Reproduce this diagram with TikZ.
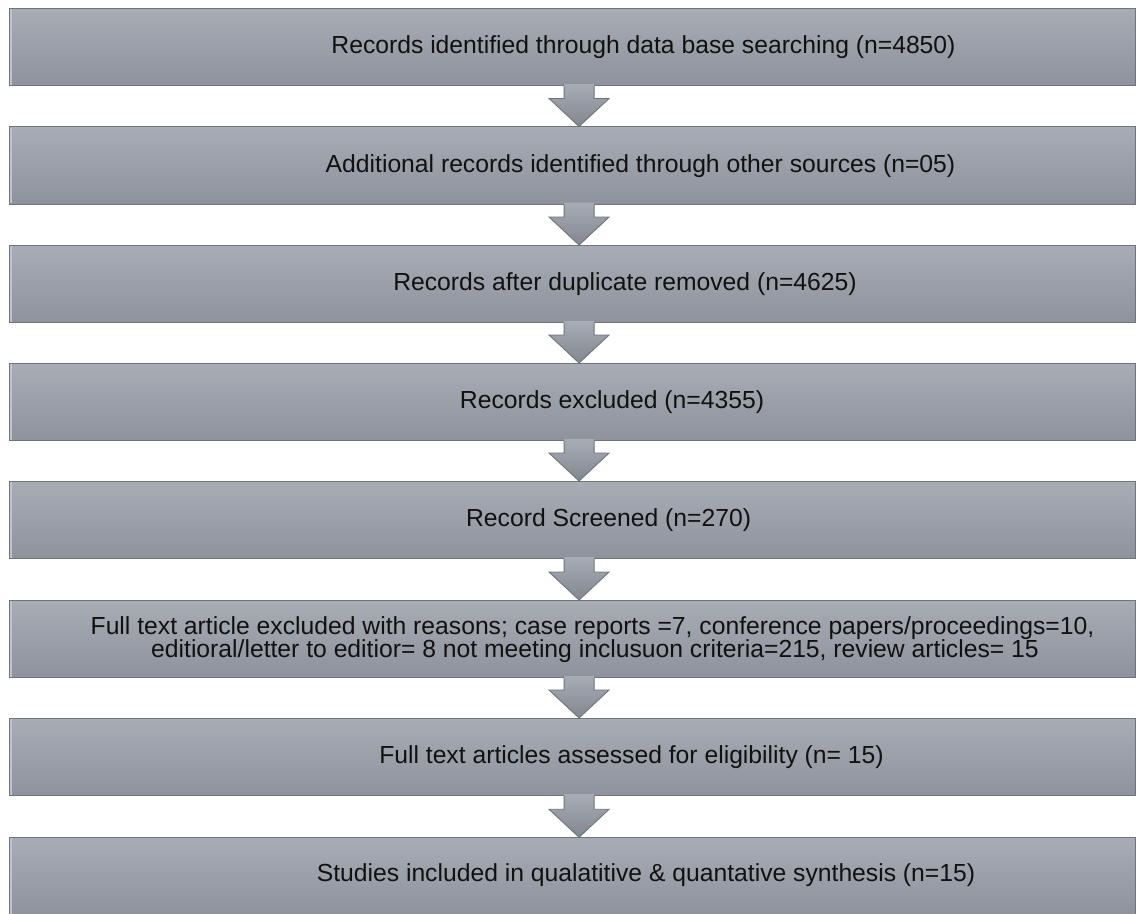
\documentclass[tikz,border=0pt]{standalone}
\usepackage{fontspec}
\setmainfont{Liberation Sans}
\usetikzlibrary{calc}
\definecolor{boxtop}{RGB}{168,172,181}
\definecolor{boxbot}{RGB}{141,146,156}
\definecolor{boxline}{RGB}{110,115,124}
\definecolor{boxhl}{RGB}{192,195,202}
\definecolor{txt}{RGB}{17,17,17}
\tikzset{
  stagebox/.style={rectangle, minimum width=1126.5pt, minimum height=77.5pt,
    inner sep=0pt, outer sep=0pt, top color=boxtop, bottom color=boxbot,
    draw=boxline, line width=1pt,
    path picture={\draw[boxhl, line width=1.2pt]
      ([xshift=2pt,yshift=-1pt]path picture bounding box.north west) --
      ([xshift=2pt,yshift=1pt]path picture bounding box.south west);}},
  stagetext/.style={anchor=base, inner sep=0pt, text=txt,
    font=\fontsize{24.7}{23}\selectfont},
  arrowfill/.style={top color=boxtop, bottom color=boxbot!92!black},
  arrowline/.style={draw=boxline, line width=0.9pt, line join=miter}
}
\newcommand\flowarrow[2]{%
  \shade[arrowfill]
    ($(#1.south)+(-8.2,-1.5)$) -- ($(#2.north)+(-8.2,-28)$) --
    ($(#2.north)+(-23.2,-28)$) -- ($(#2.north)+(6.8,0)$) --
    ($(#2.north)+(36.8,-28)$) -- ($(#2.north)+(21.8,-28)$) --
    ($(#1.south)+(21.8,-1.5)$) -- cycle;
  \draw[arrowline]
    ($(#1.south)+(-8.2,0.5)$) -- ($(#2.north)+(-8.2,-28)$) --
    ($(#2.north)+(-23.2,-28)$) -- ($(#2.north)+(6.8,0)$) --
    ($(#2.north)+(36.8,-28)$) -- ($(#2.north)+(21.8,-28)$) --
    ($(#1.south)+(21.8,0.5)$);
}
\begin{document}
\begin{tikzpicture}[x=1pt,y=-1pt]
\useasboundingbox (0,0) rectangle (1137,913);
\fill[white] (0,0) rectangle (1137,913);

\node[stagebox] (b1) at (572.25,46.75) {};
\node[stagebox] (b2) at (572.25,165.25) {};
\node[stagebox] (b3) at (572.25,283.75) {};
\node[stagebox] (b4) at (572.25,401.75) {};
\node[stagebox] (b5) at (572.25,519.75) {};
\node[stagebox] (b6) at (572.25,638.75) {};
\node[stagebox] (b7) at (572.25,756.75) {};
\node[stagebox] (b8) at (572.25,876) {};

\flowarrow{b1}{b2}
\flowarrow{b2}{b3}
\flowarrow{b3}{b4}
\flowarrow{b4}{b5}
\flowarrow{b5}{b6}
\flowarrow{b6}{b7}
\flowarrow{b7}{b8}

\node[stagetext] (t1) at (643.5,53.5) {Records identified through data base searching (n=4850)};
\node[stagetext] (t2) at (640.5,172) {Additional records identified through other sources (n=05)};
\node[stagetext] (t3) at (625,290.5) {Records after duplicate removed (n=4625)};
\node[stagetext] (t4) at (612,408.5) {Records excluded (n=4355)};
\node[stagetext] (t5) at (608.6,526.5) {Record Screened (n=270)};
\node[stagetext] (t6a) at (592.5,634) {Full text article excluded with reasons; case reports =7, conference papers/proceedings=10,};
\node[stagetext] (t6b) at (595,657) {editioral/letter to editior= 8 not meeting inclusuon criteria=215, review articles= 15};
\node[stagetext] (t7) at (631.5,763.5) {Full text articles assessed for eligibility (n= 15)};
\node[stagetext] (t8) at (646,881.5) {Studies included in qualatitive \& quantative synthesis (n=15)};
\end{tikzpicture}
\end{document}
